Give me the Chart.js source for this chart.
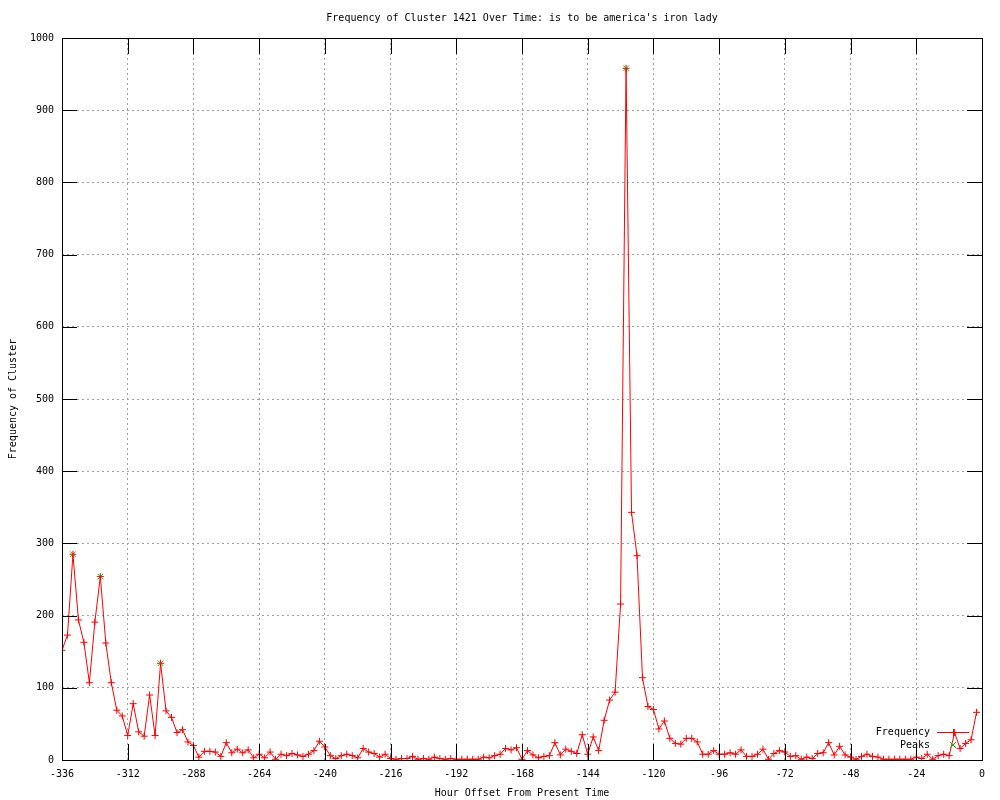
<!DOCTYPE html>
<html>
<head>
<meta charset="utf-8">
<title>Frequency of Cluster 1421</title>
<script src="https://cdn.jsdelivr.net/npm/chart.js@4/dist/chart.umd.min.js"></script>
<style>
  body { margin: 0; background: #fff; }
  canvas { display: block; }
</style>
</head>
<body>
<canvas id="clusterChart" width="1000" height="800"></canvas>
<script>
// hourly buckets, every 2 hours from -336 up to -2
const firstHour = -336;
const hourStep = 2;
const frequency = [
  152, 173, 285, 194, 163, 107, 191, 254, 162, 107,
  69, 61, 34, 78, 39, 33, 90, 34, 134, 68,
  59, 38, 42, 25, 20, 4, 12, 12, 11, 5,
  24, 10, 15, 10, 14, 3, 8, 3, 11, 1,
  8, 6, 9, 7, 5, 8, 13, 26, 18, 6,
  2, 6, 8, 6, 3, 16, 11, 9, 4, 8,
  2, 1, 2, 2, 5, 1, 2, 1, 4, 2,
  1, 2, 1, 1, 1, 1, 1, 4, 3, 6,
  8, 16, 14, 17, 1, 13, 7, 3, 5, 6,
  24, 7, 15, 12, 9, 35, 8, 32, 13, 55,
  83, 94, 216, 958, 343, 283, 114, 74, 70, 43,
  54, 30, 23, 22, 30, 30, 25, 8, 8, 13,
  8, 8, 10, 8, 14, 5, 5, 8, 15, 1,
  9, 13, 11, 5, 6, 1, 4, 2, 9, 10,
  24, 7, 19, 7, 4, 1, 5, 8, 5, 4,
  1, 1, 1, 1, 1, 1, 4, 2, 8, 1,
  6, 8, 6, 38, 16, 23, 28, 66
];
const hours = frequency.map((v, i) => firstHour + i * hourStep);

const peakHours = [-332, -322, -300, -130];
const peakValues = [285, 254, 134, 958];

const xTicks = [-336, -312, -288, -264, -240, -216, -192, -168, -144, -120, -96, -72, -48, -24, 0];
const yTicks = [0, 100, 200, 300, 400, 500, 600, 700, 800, 900, 1000];

const chartTitle = "Frequency of Cluster 1421 Over Time: is to be america's iron lady";

const FONT = '"DejaVu Sans Mono", "Liberation Mono", monospace';
Chart.defaults.font.family = FONT;
Chart.defaults.font.size = 10;
Chart.defaults.color = '#000';

// gnuplot style frame: black border plus inward tick marks on all four sides
const framePlugin = {
  id: 'frame',
  afterDatasetsDraw(chart) {
    const ctx = chart.ctx;
    const a = chart.chartArea;
    const xs = chart.scales.x, ys = chart.scales.y;
    ctx.save();
    ctx.strokeStyle = '#000';
    ctx.lineWidth = 1;
    ctx.beginPath();
    xTicks.forEach(t => {
      const px = Math.round(xs.getPixelForValue(t)) + 0.5;
      ctx.moveTo(px, a.bottom); ctx.lineTo(px, a.bottom - 16);
      ctx.moveTo(px, a.top); ctx.lineTo(px, a.top + 16);
    });
    yTicks.forEach(t => {
      const py = Math.round(ys.getPixelForValue(t)) + 0.5;
      ctx.moveTo(a.left, py); ctx.lineTo(a.left + 15, py);
      ctx.moveTo(a.right, py); ctx.lineTo(a.right - 15, py);
    });
    ctx.stroke();
    ctx.strokeRect(Math.round(a.left) + 0.5, Math.round(a.top) + 0.5,
      Math.round(a.right - a.left), Math.round(a.bottom - a.top));
    ctx.restore();
  }
};

// title centred over the plot area, and the key in the lower right corner
const keyPlugin = {
  id: 'key',
  afterDraw(chart) {
    const ctx = chart.ctx;
    const a = chart.chartArea;
    ctx.save();
    ctx.font = '10px ' + FONT;
    ctx.fillStyle = '#000';
    ctx.textBaseline = 'middle';
    ctx.textAlign = 'center';
    ctx.fillText(chartTitle, (a.left + a.right) / 2, 18);

    const textX = a.right - 52;
    const y1 = a.bottom - 28, y2 = a.bottom - 15;
    const mx = a.right - 29;
    ctx.textAlign = 'right';
    ctx.fillText('Frequency', textX, y1);
    ctx.fillText('Peaks', textX, y2);
    ctx.lineWidth = 1;
    ctx.strokeStyle = 'red';
    ctx.beginPath();
    ctx.moveTo(a.right - 45, y1 + 0.5); ctx.lineTo(a.right - 13, y1 + 0.5);
    ctx.moveTo(mx + 0.5, y1 - 3); ctx.lineTo(mx + 0.5, y1 + 4);
    ctx.stroke();
    ctx.strokeStyle = 'rgb(0,192,0)';
    ctx.beginPath();
    ctx.moveTo(mx - 3, y2 - 3); ctx.lineTo(mx + 3, y2 + 3);
    ctx.moveTo(mx - 3, y2 + 3); ctx.lineTo(mx + 3, y2 - 3);
    ctx.stroke();
    ctx.restore();
  }
};

const ctx = document.getElementById('clusterChart').getContext('2d');
const chart = new Chart(ctx, {
  type: 'line',
  data: {
    datasets: [{
      label: 'Frequency',
      data: hours.map((h, i) => ({ x: h, y: frequency[i] })),
      borderColor: 'red',
      backgroundColor: 'red',
      borderWidth: 1,
      pointStyle: 'cross',
      pointRadius: 3.5,
      pointBorderWidth: 1,
      pointBorderColor: 'red',
      tension: 0,
      fill: false,
      order: 0
    }, {
      label: 'Peaks',
      data: peakHours.map((h, i) => ({ x: h, y: peakValues[i] })),
      showLine: false,
      borderColor: 'rgb(0,192,0)',
      backgroundColor: 'rgb(0,192,0)',
      pointStyle: 'crossRot',
      pointRadius: 4,
      pointBorderWidth: 1,
      order: 1
    }]
  },
  options: {
    responsive: false,
    animation: false,
    devicePixelRatio: 1,
    layout: { padding: { left: 0, right: 18, top: 38, bottom: 0 } },
    plugins: {
      legend: { display: false },
      tooltip: { enabled: false },
      title: { display: false }
    },
    scales: {
      x: {
        type: 'linear',
        min: -336,
        max: 0,
        afterBuildTicks: s => { s.ticks = xTicks.map(v => ({ value: v })); },
        afterFit: s => { s.height = 40; },
        ticks: { padding: 8, maxRotation: 0, autoSkip: false, font: { size: 10 },
          callback: v => String(v) },
        grid: { color: '#a0a0a0', drawTicks: false, lineWidth: 1 },
        border: { display: false, dash: [2, 3] },
        title: {
          display: true,
          text: 'Hour Offset From Present Time',
          font: { size: 10 },
          padding: { top: 0, bottom: 1 }
        }
      },
      y: {
        type: 'linear',
        min: 0,
        max: 1000,
        afterBuildTicks: s => { s.ticks = yTicks.map(v => ({ value: v })); },
        afterFit: s => { s.width = 62; },
        ticks: { padding: 8, font: { size: 10 }, callback: v => String(v) },
        grid: { color: '#a0a0a0', drawTicks: false, lineWidth: 1 },
        border: { display: false, dash: [2, 3] },
        title: {
          display: true,
          text: 'Frequency of Cluster',
          font: { size: 10 },
          padding: { top: 7, bottom: 0 }
        }
      }
    }
  },
  plugins: [framePlugin, keyPlugin]
});
</script>
</body>
</html>
